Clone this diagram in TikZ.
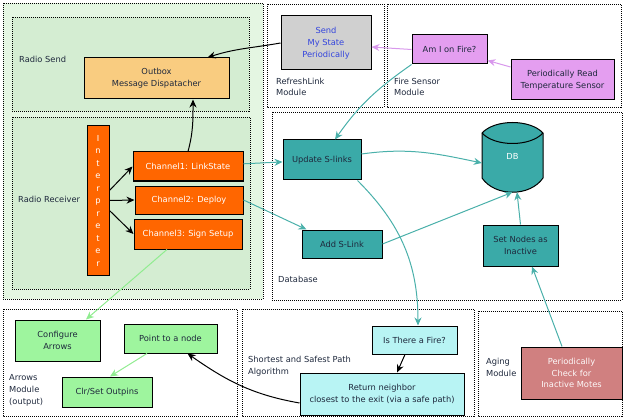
\documentclass[tikz,border=0pt]{standalone}
\usepackage{fontspec}
\setmainfont{DejaVu Sans}
\usetikzlibrary{arrows.meta}
\definecolor{bggreen}{RGB}{228,246,226}
\definecolor{ingreen}{RGB}{212,237,210}
\definecolor{outboxorange}{RGB}{249,204,128}
\definecolor{chorange}{RGB}{255,102,0}
\definecolor{sendgray}{RGB}{208,208,208}
\definecolor{sendblue}{RGB}{51,68,221}
\definecolor{firepurple}{RGB}{228,158,240}
\definecolor{dbteal}{RGB}{58,170,168}
\definecolor{algcyan}{RGB}{184,244,244}
\definecolor{armgreen}{RGB}{158,245,158}
\definecolor{agered}{RGB}{208,128,128}
\definecolor{tealline}{RGB}{74,176,170}
\definecolor{violetline}{RGB}{216,152,236}
\definecolor{greenline}{RGB}{144,236,144}
\definecolor{boxtext}{RGB}{30,40,60}
\tikzset{
  box/.style={draw, line width=1pt, align=center, inner sep=0pt, text=boxtext},
  module/.style={draw, line width=0.9pt, dash pattern=on 1pt off 1pt},
  modlabel/.style={anchor=west, align=left, inner sep=0pt, text=boxtext},
  link/.style={-{Stealth[length=8pt,width=7pt]}, line width=1pt},
  tlink/.style={link, tealline},
  vlink/.style={link, violetline},
  glink/.style={link, greenline}
}

\begin{document}
\begin{tikzpicture}[x=1pt, y=-1pt, every node/.style={font=\fontsize{8.3}{11.8}\selectfont}]
  \useasboundingbox (0,0) rectangle (632,417);

  % module frames
  \draw[module, fill=bggreen] (3,3) rectangle (263,299);
  \draw[module, fill=ingreen] (12,17) rectangle (249,111);
  \draw[module, fill=ingreen] (12,117) rectangle (250,289);
  \draw[module] (267,4) rectangle (384,107);
  \draw[module] (387,4) rectangle (621,107);
  \draw[module] (272,112) rectangle (622,300);
  \draw[module] (3,309) rectangle (237,416);
  \draw[module] (242,309) rectangle (474,416);
  \draw[module] (478,311) rectangle (622,416);

  \node[modlabel] (lsend) at (19,59) {Radio Send};
  \node[modlabel] (lrecv) at (18,199) {Radio Receiver};
  \node[modlabel] (lrefresh) at (276,87) {RefreshLink\\Module};
  \node[modlabel] (lfire) at (394,87) {Fire Sensor\\Module};
  \node[modlabel] (ldb) at (278,279) {Database};
  \node[modlabel] (larrows) at (9,390.5) {Arrows\\Module\\(output)};
  \node[modlabel] (lpath) at (248,366.5) {Shortest and Safest Path\\Algorithm};
  \node[modlabel] (laging) at (486,367.5) {Aging\\Module};

  % radio
  \node[box, fill=outboxorange, minimum width=145pt, minimum height=41pt] (outbox) at (156.5,78.5) {Outbox\\Message Dispatacher};
  \node[box, fill=chorange, text=white, minimum width=22pt, minimum height=149pt,
        font=\fontsize{8.3}{12.5}\selectfont] (interp) at (98,200.5) {I\\n\\t\\e\\r\\p\\r\\e\\t\\e\\r};
  \node[box, fill=chorange, text=white, minimum width=110pt, minimum height=29pt] (ch1) at (188,166.5) {Channel1: LinkState};
  \node[box, fill=chorange, text=white, minimum width=108pt, minimum height=28pt] (ch2) at (189,200) {Channel2: Deploy};
  \node[box, fill=chorange, text=white, minimum width=108pt, minimum height=30pt] (ch3) at (188,234) {Channel3: Sign Setup};

  % refresh and fire sensor
  \node[box, fill=sendgray, text=sendblue, minimum width=90pt, minimum height=54pt] (send) at (326,43) {Send\\My State\\Periodically};
  \node[box, fill=firepurple, minimum width=75pt, minimum height=29pt] (fire) at (449.5,49.5) {Am I on Fire?};
  \node[box, fill=firepurple, minimum width=103pt, minimum height=40pt] (readtemp) at (562.5,80) {Periodically Read\\Temperature Sensor};

  % database
  \node[box, fill=dbteal, minimum width=78pt, minimum height=40pt] (update) at (322,160) {Update S-links};
  \draw[line width=1pt, fill=dbteal] (482,133) .. controls (495,119) and (530,119) .. (543,133)
    -- (543,178) .. controls (530,197) and (495,197) .. (482,178) -- cycle;
  \draw[line width=1pt] (482,133) .. controls (495,147) and (530,147) .. (543,133);
  \node[inner sep=0pt, text=white, minimum width=61pt, minimum height=71pt] (db) at (512.5,156.5) {DB};
  \node[box, fill=dbteal, minimum width=80pt, minimum height=28pt] (addlink) at (342,244) {Add S-Link};
  \node[box, fill=dbteal, minimum width=75pt, minimum height=41pt] (inactive) at (520.5,245.5) {Set Nodes as\\Inactive};

  % arrows module
  \node[box, fill=armgreen, minimum width=85pt, minimum height=41pt] (config) at (57.5,340.5) {Configure\\Arrows};
  \node[box, fill=armgreen, minimum width=93pt, minimum height=29pt] (point) at (170.5,338.5) {Point to a node};
  \node[box, fill=armgreen, minimum width=90pt, minimum height=30pt] (outpins) at (107,392) {Clr/Set Outpins};

  % path algorithm and aging
  \node[box, fill=algcyan, minimum width=85pt, minimum height=28pt] (isfire) at (414.5,340) {Is There a Fire?};
  \node[box, fill=algcyan, minimum width=164pt, minimum height=42pt] (ret) at (382,394) {Return neighbor\\closest to the exit (via a safe path)};
  \node[box, fill=agered, text=white!95!agered, minimum width=101pt, minimum height=52pt] (check) at (571.5,373) {Periodically\\Check for\\Inactive Motes};

  % connectors
  \draw[link] (send.west) to[out=190,in=18] ([xshift=-22pt]outbox.north east);
  \draw[link] (ch1.north) to[out=75,in=-90] ([xshift=36.5pt]outbox.south);
  \draw[link] ([yshift=10pt]interp.east) -- (ch1.west);
  \draw[link] (interp.east) -- (ch2.west);
  \draw[link] ([yshift=-10pt]interp.east) -- (ch3.west);
  \draw[vlink] (fire.west) -- ([yshift=-4pt]send.east);
  \draw[vlink] ([yshift=13pt]readtemp.west) -- ([yshift=-11pt]fire.east);
  \draw[tlink] (fire.south west) to[out=215,in=55] ([xshift=13pt]update.north);
  \draw[tlink] (ch1) -- (update);
  \draw[tlink] (ch2.east) -- ([xshift=5pt]addlink.north west);
  \draw[tlink] ([yshift=6pt]update.east) to[out=8,in=168] ([yshift=-6.5pt]db.west);
  \draw[tlink] (addlink.east) -- (db.south);
  \draw[tlink] (inactive.north) -- ([xshift=4.5pt]db.south);
  \draw[tlink] ([xshift=-9.5pt]check.north) -- ([xshift=11.5pt]inactive.south);
  \draw[tlink] ([xshift=-4pt]update.south east) to[out=-45,in=90] ([xshift=3.5pt]isfire.north);
  \draw[glink] ([xshift=-21pt]ch3.south) -- ([xshift=28.5pt]config.north);
  \draw[glink] ([xshift=-23.5pt]point.south) -- ([xshift=3pt]outpins.north);
  \draw[link] ([xshift=-9.5pt]isfire.south) -- ([xshift=15pt]ret.north);
  \draw[link] ([yshift=-9pt]ret.west) to[out=170,in=-35] ([xshift=17pt]point.south);
\end{tikzpicture}
\end{document}
